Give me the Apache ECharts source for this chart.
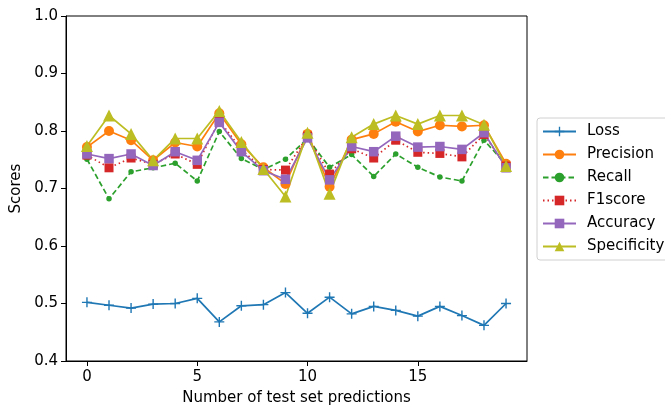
<!DOCTYPE html>
<html><head><meta charset="utf-8">
<script src="https://cdn.jsdelivr.net/npm/echarts@6/dist/echarts.min.js"></script>
<style>html,body{margin:0;padding:0;background:#fff}#c{width:665px;height:407px}</style>
</head><body><div id="c"></div>
<script>
const xs = [0,1,2,3,4,5,6,7,8,9,10,11,12,13,14,15,16,17,18,19];
const loss = [0.502,0.497,0.492,0.499,0.500,0.509,0.468,0.496,0.498,0.519,0.483,0.511,0.482,0.495,0.488,0.478,0.495,0.479,0.462,0.500];
const precision = [0.772,0.800,0.784,0.749,0.780,0.773,0.831,0.777,0.737,0.708,0.795,0.703,0.785,0.795,0.816,0.799,0.810,0.808,0.810,0.743];
const recall = [0.751,0.682,0.729,0.736,0.744,0.713,0.799,0.752,0.733,0.751,0.787,0.737,0.759,0.721,0.760,0.737,0.720,0.713,0.784,0.742];
const f1score = [0.758,0.736,0.753,0.742,0.760,0.742,0.818,0.768,0.733,0.732,0.791,0.725,0.769,0.753,0.784,0.763,0.761,0.755,0.794,0.739];
const accuracy = [0.760,0.752,0.760,0.740,0.764,0.749,0.815,0.764,0.731,0.716,0.788,0.715,0.773,0.764,0.791,0.772,0.773,0.768,0.797,0.736];
const specificity = [0.774,0.827,0.795,0.749,0.787,0.787,0.835,0.781,0.734,0.686,0.797,0.691,0.789,0.812,0.827,0.812,0.827,0.827,0.811,0.739];
const xTicks = [0,5,10,15];
const yTicks = [0.4,0.5,0.6,0.7,0.8,0.9,1.0];

const pair = a => a.map((v,i)=>[xs[i],v]);
const plus = 'path://M4.3,0h1.4v10h-1.4zM0,4.3h10v1.4h-10z';
const font = 'DejaVu Sans';
const fs = 15;
function s(name,data,color,symbol,size,lineType){
  return {name,type:'line',data:pair(data),symbol,symbolSize:size,showSymbol:true,
    lineStyle:{color,width:1.7,type:lineType},itemStyle:{color},
    emphasis:{disabled:true},animation:false};
}
const chart = echarts.init(document.getElementById('c'),null,{renderer:'canvas'});
chart.setOption({
  animation:false,
  textStyle:{fontFamily:font},
  grid:{left:66,right:138,top:16,bottom:46,outerBoundsMode:'none',containLabel:false,
    show:true,borderColor:'#000',borderWidth:1,backgroundColor:'transparent'},
  xAxis:{type:'value',min:-0.95,max:19.95,
    name:'Number of test set predictions',nameLocation:'middle',nameGap:30,
    nameTextStyle:{fontFamily:font,fontSize:fs,color:'#000'},
    axisLine:{show:true,onZero:false,lineStyle:{color:'#000',width:1}},
    axisTick:{show:true,customValues:xTicks,length:5,lineStyle:{color:'#000'}},
    axisLabel:{customValues:xTicks,fontFamily:font,fontSize:fs,color:'#000',margin:9},
    splitLine:{show:false}},
  yAxis:{type:'value',min:0.4,max:1.0,interval:0.1,
    name:'Scores',nameLocation:'middle',nameGap:37,
    nameTextStyle:{fontFamily:font,fontSize:fs,color:'#000'},
    axisLine:{show:true,onZero:false,lineStyle:{color:'#000',width:1}},
    axisTick:{show:true,length:5,lineStyle:{color:'#000'}},
    axisLabel:{fontFamily:font,fontSize:fs,color:'#000',margin:8,formatter:v=>v.toFixed(1)},
    splitLine:{show:false}},
  legend:{orient:'vertical',left:537,top:118,itemWidth:33,itemHeight:12,itemGap:8,
    padding:[6,10,6,5],borderColor:'#d0d0d0',borderWidth:1,borderRadius:3,
    backgroundColor:'#fff',textStyle:{fontFamily:font,fontSize:fs,color:'#000',padding:[0,0,0,6]},
    data:['Loss','Precision','Recall','F1score','Accuracy','Specificity']},
  series:[
    s('Loss',loss,'#1f77b4',plus,10,'solid'),
    s('Precision',precision,'#ff7f0e','circle',10,'solid'),
    s('Recall',recall,'#2ca02c','circle',5.5,[5.5,3]),
    s('F1score',f1score,'#d62728','rect',9,[1.5,3]),
    s('Accuracy',accuracy,'#9467bd','rect',9.5,'solid'),
    s('Specificity',specificity,'#bcbd22','triangle',12,'solid')
  ]
});
</script></body></html>
